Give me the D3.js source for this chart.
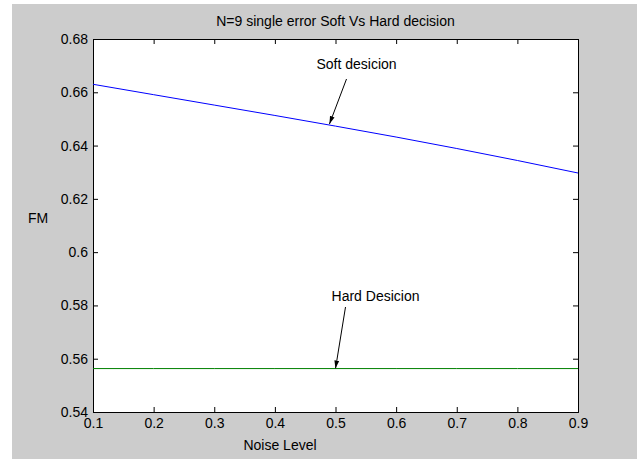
<!DOCTYPE html>
<html>
<head>
<meta charset="utf-8">
<script src="https://cdn.jsdelivr.net/npm/d3@7"></script>
<style>
  body { margin: 0; background: #fff; }
  svg text { font-family: "Liberation Sans", Arial, sans-serif; fill: #000; }
</style>
</head>
<body>
<svg id="chart" width="639" height="459"></svg>
<script>
// data
const noise = [0.1, 0.2, 0.3, 0.4, 0.5, 0.6, 0.7, 0.8, 0.9];
const soft = [0.6630, 0.6591, 0.6552, 0.6513, 0.6473, 0.6432, 0.6389, 0.6344, 0.6297];
const hard = [0.5563, 0.5563, 0.5563, 0.5563, 0.5563, 0.5563, 0.5563, 0.5563, 0.5563];
const xTicks = [0.1, 0.2, 0.3, 0.4, 0.5, 0.6, 0.7, 0.8, 0.9];
const yTicks = [0.54, 0.56, 0.58, 0.6, 0.62, 0.64, 0.66, 0.68];

const svg = d3.select('#chart');

// grey figure background
svg.append('rect')
  .attr('x', 12).attr('y', 4)
  .attr('width', 625).attr('height', 455)
  .attr('fill', '#cccccc');

const margin = {top: 39, left: 93};
const width = 485;
const height = 373;

const g = svg.append('g')
  .attr('transform', `translate(${margin.left},${margin.top})`);

const x = d3.scaleLinear().domain([0.1, 0.9]).range([0, width]);
const y = d3.scaleLinear().domain([0.54, 0.68]).range([height, 0]);

g.append('rect')
  .attr('width', width).attr('height', height)
  .attr('fill', '#fff');

// axes, ticks pointing inward like matlab
const fmt = d => d3.format('')(+d.toFixed(2));

g.append('g')
  .attr('class', 'axis')
  .attr('transform', `translate(0,${height})`)
  .call(d3.axisBottom(x).tickValues(xTicks).tickSize(-5).tickPadding(6).tickFormat(fmt));

g.append('g')
  .attr('class', 'axis')
  .call(d3.axisTop(x).tickValues(xTicks).tickSize(-5).tickFormat(''));

g.append('g')
  .attr('class', 'axis')
  .call(d3.axisLeft(y).tickValues(yTicks).tickSize(-5).tickPadding(5).tickFormat(fmt));

g.append('g')
  .attr('class', 'axis')
  .attr('transform', `translate(${width},0)`)
  .call(d3.axisRight(y).tickValues(yTicks).tickSize(-5).tickFormat(''));

g.selectAll('.axis path').attr('stroke', '#000').attr('stroke-width', 1);
g.selectAll('.axis line').attr('stroke', '#000');
g.selectAll('.axis text')
  .style('font-size', '14px')
  .style('font-family', '"Liberation Sans", Arial, sans-serif')
  .attr('fill', '#000');

// lines
const line = d3.line()
  .x((d, i) => x(noise[i]))
  .y(d => y(d));

g.append('path')
  .datum(soft)
  .attr('d', line)
  .attr('fill', 'none')
  .attr('stroke', '#0000ff')
  .attr('stroke-width', 1);

g.append('path')
  .datum(hard)
  .attr('d', line)
  .attr('fill', 'none')
  .attr('stroke', '#008000')
  .attr('stroke-width', 1);

// arrows for the annotations
svg.append('defs').append('marker')
  .attr('id', 'arrow')
  .attr('viewBox', '0 0 10 10')
  .attr('refX', 10).attr('refY', 5)
  .attr('markerWidth', 8).attr('markerHeight', 8)
  .attr('markerUnits', 'userSpaceOnUse')
  .attr('orient', 'auto')
  .append('path')
  .attr('d', 'M0,2 L10,5 L0,8 Z')
  .attr('fill', '#000');

g.append('line')
  .attr('x1', x(0.5) + 11).attr('y1', 40)
  .attr('x2', x(0.49)).attr('y2', y(soft[4]) - 2)
  .attr('stroke', '#000')
  .attr('marker-end', 'url(#arrow)');

g.append('text')
  .attr('x', x(0.5) + 21).attr('y', 30)
  .attr('text-anchor', 'middle')
  .style('font-size', '14px')
  .text('Soft desicion');

g.append('line')
  .attr('x1', x(0.5) + 10).attr('y1', 268)
  .attr('x2', x(0.5)).attr('y2', y(hard[4]))
  .attr('stroke', '#000')
  .attr('marker-end', 'url(#arrow)');

g.append('text')
  .attr('x', x(0.5) + 40).attr('y', 262)
  .attr('text-anchor', 'middle')
  .style('font-size', '14px')
  .text('Hard Desicion');

// titles
svg.append('text')
  .attr('x', margin.left + width / 2).attr('y', 26)
  .attr('text-anchor', 'middle')
  .style('font-size', '14px')
  .text('N=9 single error Soft Vs Hard decision');

svg.append('text')
  .attr('x', 280).attr('y', 450)
  .attr('text-anchor', 'middle')
  .style('font-size', '14px')
  .text('Noise Level');

svg.append('text')
  .attr('x', 38).attr('y', 223)
  .attr('text-anchor', 'middle')
  .style('font-size', '14px')
  .text('FM');
</script>
</body>
</html>
